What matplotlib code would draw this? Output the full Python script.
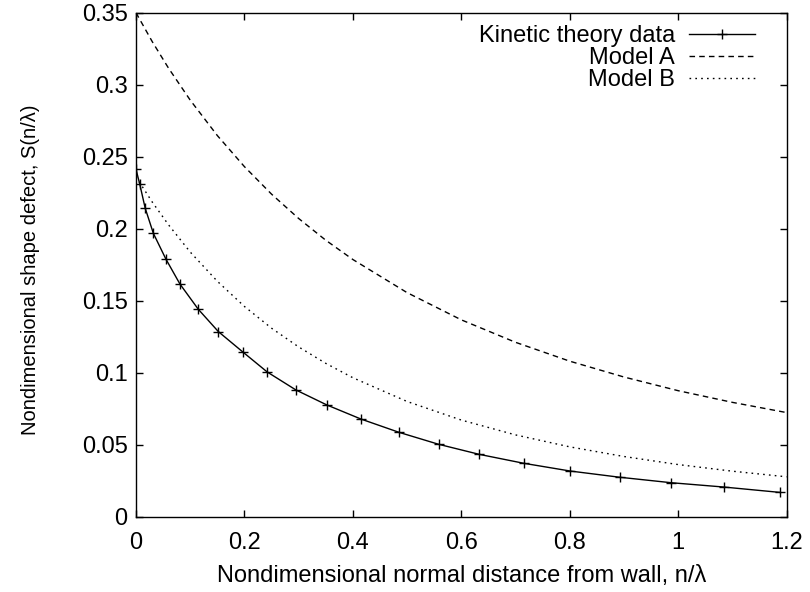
import numpy as np
import matplotlib
matplotlib.use('Agg')
import matplotlib.pyplot as plt

plt.rcParams['font.family'] = ['Liberation Sans', 'DejaVu Sans']

# kinetic theory data
kin_x = [0.0, 0.007, 0.017, 0.032, 0.055, 0.081, 0.115, 0.152, 0.197, 0.242, 0.295,
         0.352, 0.415, 0.485, 0.558, 0.633, 0.715, 0.801, 0.892, 0.987, 1.084, 1.187]
kin_y = [0.2413, 0.2308, 0.2142, 0.1968, 0.179, 0.1616, 0.144, 0.1285, 0.1144, 0.1005, 0.088,
         0.0776, 0.0678, 0.0586, 0.0503, 0.0433, 0.0371, 0.0317, 0.0274, 0.0236, 0.0206, 0.0169]

# model curves
mod_x = [0.0, 0.03, 0.06, 0.1, 0.15, 0.2, 0.25, 0.3, 0.35, 0.4, 0.5, 0.6, 0.7, 0.8, 0.9, 1.0, 1.1, 1.2]
modA_y = [0.35, 0.3299, 0.3115, 0.2893, 0.2647, 0.2431, 0.224, 0.2071, 0.192, 0.1786, 0.1556,
          0.1367, 0.1211, 0.108, 0.097, 0.0875, 0.0794, 0.0723]
modB_y = [0.236, 0.2185, 0.2027, 0.1838, 0.1635, 0.146, 0.1309, 0.1179, 0.1065, 0.0965, 0.08,
          0.0671, 0.0568, 0.0485, 0.0418, 0.0362, 0.0316, 0.0277]

xticks = [0, 0.2, 0.4, 0.6, 0.8, 1, 1.2]
xtick_labels = ['0', '0.2', '0.4', '0.6', '0.8', '1', '1.2']
yticks = [0, 0.05, 0.1, 0.15, 0.2, 0.25, 0.3, 0.35]
ytick_labels = ['0', '0.05', '0.1', '0.15', '0.2', '0.25', '0.3', '0.35']

fs = 17
fig = plt.figure(figsize=(8.1, 5.92), dpi=100)
ax = fig.add_axes([0.1679, 0.1272, 0.9712 - 0.1679, 0.9785 - 0.1272])

ax.plot(kin_x, kin_y, color='black', lw=1.0, marker='+', ms=7, mew=1.0, label='Kinetic theory data')
ax.plot(mod_x, modA_y, color='black', lw=1.0, dashes=(4, 3), label='Model A')
ax.plot(mod_x, modB_y, color='black', lw=1.0, dashes=(1.2, 3), label='Model B')

ax.set_xlim(0, 1.2)
ax.set_ylim(0, 0.35)
ax.set_xticks(xticks)
ax.set_xticklabels(xtick_labels)
ax.set_yticks(yticks)
ax.set_yticklabels(ytick_labels)
ax.tick_params(direction='in', length=5, width=1, top=True, right=True, labelsize=fs)
ax.tick_params(axis='x', pad=11)
ax.tick_params(axis='y', pad=6)
for s in ax.spines.values():
    s.set_linewidth(1.0)

ax.set_xlabel('Nondimensional normal distance from wall, n/\u03bb', fontsize=fs, labelpad=8)
ax.set_ylabel('Nondimensional shape defect, S(n/\u03bb)', fontsize=14.5)
ax.yaxis.set_label_coords(-0.148, 0.49)

ax.legend(loc='upper right', bbox_to_anchor=(0.9954, 1.032), frameon=False, markerfirst=False,
          fontsize=fs, handlelength=2.8, handletextpad=0.6, labelspacing=0.0,
          borderaxespad=0.3, borderpad=0.9)

fig.savefig('out.png', dpi=100)
